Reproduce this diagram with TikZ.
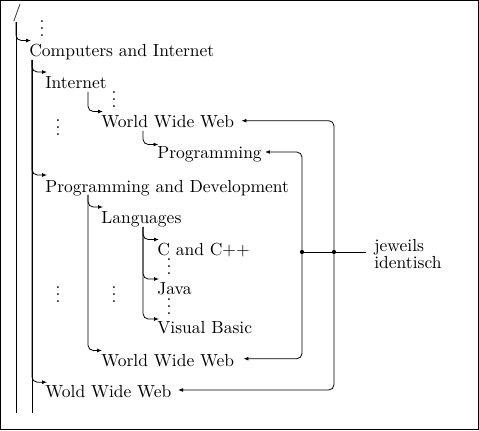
\documentclass[tikz,border=0pt]{standalone}
\usetikzlibrary{arrows.meta}
\newcommand\tightvdots{\vbox{\baselineskip4pt\lineskiplimit0pt\hbox{.}\hbox{.}\hbox{.}}}
\begin{document}
\begin{tikzpicture}[x=0.5714pt,y=-0.5714pt,
  lbl/.style={anchor=base west,inner sep=0pt},
  dts/.style={anchor=south,inner sep=0pt},
  ln/.style={line width=0.45pt},
  arr/.style={ln,-{Latex[length=2.8pt,width=2.2pt]},rounded corners=3pt},
  jdot/.style={circle,fill,inner sep=0pt,minimum size=2.4pt}]
\useasboundingbox (0,0) rectangle (479,431);
\draw[line width=0.5pt] (0.6,0.6) rectangle (478.2,429.8);

% texts
\node[inner sep=0pt] (root) at (17,13) {/};
\node[lbl] (ci)   at (29,57)  {Computers and Internet};
\node[lbl] (inet) at (45,89)  {Internet};
\node[lbl] (www1) at (101,128) {World Wide Web};
\node[lbl] (prog) at (157,159) {Programming};
\node[lbl] (pad)  at (45,193) {Programming and Development};
\node[lbl] (lang) at (101,224) {Languages};
\node[lbl] (cpp)  at (157,256) {C and C++};
\node[lbl] (java) at (157,295) {Java};
\node[lbl] (vb)   at (157,334) {Visual Basic};
\node[lbl] (www2) at (101,367) {World Wide Web};
\node[lbl] (wold) at (45,398) {Wold Wide Web};
\node[anchor=north west,inner sep=0pt,align=left] (lab) at (374,239) {jeweils\\[-2.5pt]identisch};

% vertical dots
\node[dts] (d1) at (42,37)  {\tightvdots};
\node[dts] (d2) at (114,108) {\tightvdots};
\node[dts] (d3) at (58,136) {\tightvdots};
\node[dts] (d4) at (169,275) {\tightvdots};
\node[dts] (d5) at (169,315) {\tightvdots};
\node[dts] (d6) at (58,303) {\tightvdots};
\node[dts] (d7) at (114,303) {\tightvdots};

% trunks
\coordinate (t1a) at (16,22);  \coordinate (t1b) at (16,413);
\coordinate (t2a) at (32,60);  \coordinate (t2b) at (32,413);
\coordinate (t3) at (88,92);
\coordinate (t4) at (143,131);
\coordinate (t5) at (88,195);
\coordinate (t6) at (143,227);
\draw[ln] (t1a) -- (t1b);
\draw[ln] (t2a) -- (t2b);

% branches
\draw[arr] (t1a) |- ([shift={(2,-16.5)}]ci.base west);
\draw[arr] (t2a) |- ([shift={(2,-17)}]inet.base west);
\draw[arr] (t3)  |- ([shift={(2,-16.5)}]www1.base west);
\draw[arr] (t4)  |- ([shift={(1.5,-14.5)}]prog.base west);
\draw[arr] (t2a) |- ([shift={(2,-18)}]pad.base west);
\draw[arr] (t5)  |- ([shift={(2,-17)}]lang.base west);
\draw[arr] (t5)  |- ([shift={(1,-16.5)}]www2.base west);
\draw[arr] (t6)  |- ([shift={(2,-16.5)}]cpp.base west);
\draw[arr] (t6)  |- ([shift={(2,-16)}]java.base west);
\draw[arr] (t6)  |- ([shift={(2,-15)}]vb.base west);
\draw[arr] (t2a) |- ([shift={(2,-15.8)}]wold.base west);

% right-hand connectors
\coordinate (jb) at (302,252);
\coordinate (ja) at (334,252);
\coordinate (je) at (366,252);
\draw[arr] (ja) |- ([shift={(7,-7.3)}]www1.base east);
\draw[arr] (ja) |- ([shift={(6.5,-8)}]wold.base east);
\draw[arr] (jb) |- ([shift={(3,-7)}]prog.base east);
\draw[arr] (jb) |- ([shift={(9,-8.3)}]www2.base east);
\draw[ln] (jb) -- (je);
\node[jdot] (dotb) at (jb) {};
\node[jdot] (dota) at (ja) {};
\end{tikzpicture}
\end{document}
